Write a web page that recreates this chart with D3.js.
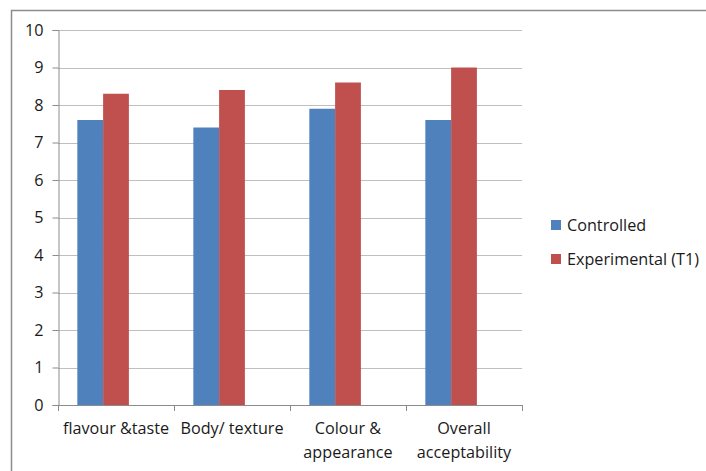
<!DOCTYPE html>
<html><head><meta charset="utf-8">
<script src="https://cdn.jsdelivr.net/npm/d3@7"></script>
<style>html,body{margin:0;padding:0;background:#fff;}svg{display:block;}</style>
</head><body><svg id="c" width="706" height="471"></svg>
<script>
const categories = [["flavour &taste"], ["Body/ texture"], ["Colour &", "appearance"], ["Overall", "acceptability"]];
const seriesNames = ["Controlled", "Experimental (T1)"];
const controlled = [7.6, 7.4, 7.9, 7.6];
const experimental = [8.3, 8.4, 8.6, 9.0];
const yTicks = [0,1,2,3,4,5,6,7,8,9,10];
const colors = ["#4F81BD", "#C0504D"];

(function(){
const svg = d3.select("#c");
const font = "'Open Sans', sans-serif";
const fs = 16.2;
const pL = 58, pR = 522, pT = 30, pB = 405;

svg.append("path").attr("d", "M11.5,471 V10.5 H706").attr("fill","none").attr("stroke","#8c8c8c").attr("stroke-width",1.5);

const catKeys = categories.map(c => c.join(" "));
const x0 = d3.scaleBand().domain(catKeys).range([pL, pR]).padding(0);
// Excel layout: 3 slots (third empty), 150% gap width
const x1 = d3.scaleBand().domain([0,1,2]).range([0, x0.bandwidth()]).paddingInner(0).paddingOuter(0.75);
const y = d3.scaleLinear().domain([0, 10]).range([pB, pT]);

// gridlines
svg.append("g").selectAll("line").data(yTicks.slice(1)).join("line")
  .attr("x1", pL).attr("x2", pR)
  .attr("y1", d => Math.round(y(d)) + 0.5).attr("y2", d => Math.round(y(d)) + 0.5)
  .attr("stroke", "#bfbfbf").attr("stroke-width", 1.2);

// bars
const series = [controlled, experimental];
series.forEach((vals, si) => {
  svg.append("g").selectAll("rect").data(vals).join("rect")
    .attr("x", (d, i) => x0(catKeys[i]) + x1(si))
    .attr("width", x1.bandwidth())
    .attr("y", d => y(d))
    .attr("height", d => y(0) - y(d))
    .attr("fill", colors[si]);
});

// y axis
const yAxis = d3.axisLeft(y).tickValues(yTicks).tickSize(6).tickPadding(9).tickFormat(d3.format("d"));
const gy = svg.append("g").attr("transform", `translate(${pL + 0.5},0)`).call(yAxis);
gy.select(".domain").attr("stroke", "#8c8c8c");
gy.selectAll(".tick line").attr("stroke", "#8c8c8c");
gy.selectAll(".tick text").attr("font-family", font).attr("font-size", fs).attr("fill", "#1a1a1a");

// x axis
svg.append("line").attr("x1", pL).attr("x2", pR).attr("y1", pB + 0.5).attr("y2", pB + 0.5).attr("stroke", "#8c8c8c");
const bounds = catKeys.map(k => x0(k)).concat([pR]);
svg.append("g").selectAll("line").data(bounds).join("line")
  .attr("x1", d => Math.round(d) + 0.5).attr("x2", d => Math.round(d) + 0.5)
  .attr("y1", pB).attr("y2", pB + 6).attr("stroke", "#8c8c8c");

const labels = svg.append("g").selectAll("text").data(categories).join("text")
  .attr("x", (d, i) => x0(catKeys[i]) + x0.bandwidth() / 2)
  .attr("y", 434)
  .attr("text-anchor", "middle").attr("font-family", font).attr("font-size", fs).attr("fill", "#1a1a1a");
labels.selectAll("tspan").data(d => d).join("tspan")
  .attr("x", function() { return this.parentNode.getAttribute("x"); })
  .attr("dy", (d, i) => i === 0 ? 0 : 23.5)
  .text(d => d);

// legend
const leg = svg.append("g").selectAll("g").data(seriesNames).join("g")
  .attr("transform", (d, i) => `translate(551,${225 + i * 34})`);
leg.append("rect").attr("x", 0).attr("y", -5).attr("width", 10).attr("height", 10).attr("fill", (d, i) => colors[i]);
leg.append("text").attr("x", 16).attr("y", 6).attr("font-family", font).attr("font-size", fs).attr("fill", "#1a1a1a").text(d => d);
})();
</script></body></html>
